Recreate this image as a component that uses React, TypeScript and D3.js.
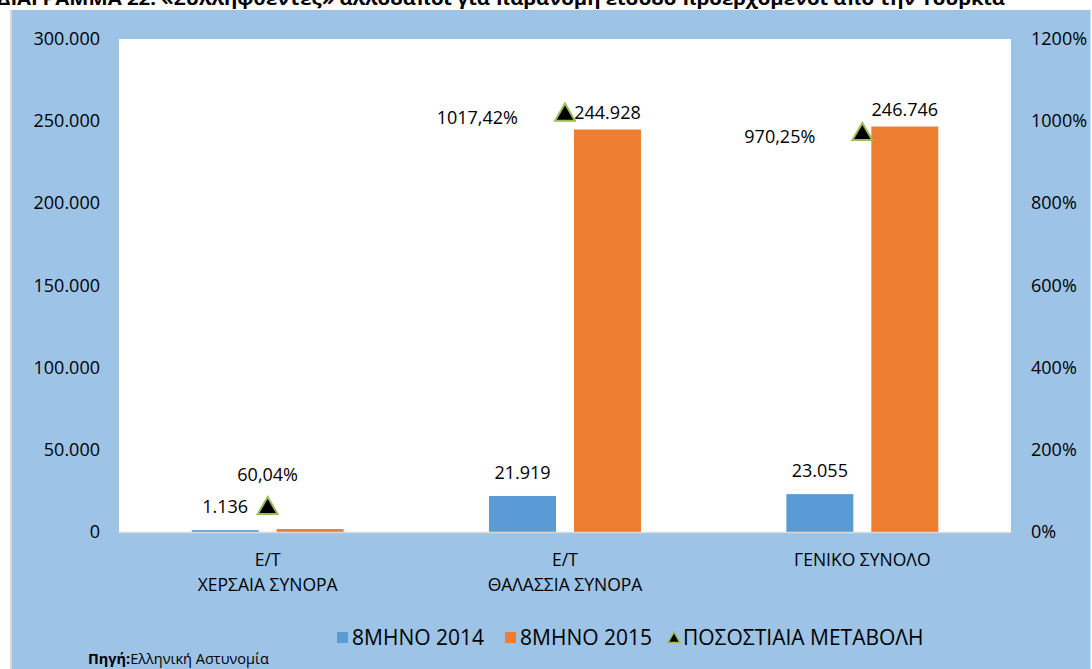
import React, { useEffect, useRef } from "react";
import * as d3 from "d3";

// categories (two-line labels)
const categories = ["Ε/Τ|ΧΕΡΣΑΙΑ ΣΥΝΟΡΑ", "Ε/Τ|ΘΑΛΑΣΣΙΑ ΣΥΝΟΡΑ", "ΓΕΝΙΚΟ ΣΥΝΟΛΟ"];
const seriesNames = ["8ΜΗΝΟ 2014", "8ΜΗΝΟ 2015"];
const values2014 = [1136, 21919, 23055];
const values2015 = [1792, 244928, 246746];
const pctChange = [60.04, 1017.42, 970.25];
const pctLabels = ["60,04%", "1017,42%", "970,25%"];
const leftTicks = [0, 50000, 100000, 150000, 200000, 250000, 300000];
const rightTicks = [0, 200, 400, 600, 800, 1000, 1200];

const title =
  "ΔΙΑΓΡΑΜΜΑ 22: «Συλληφθέντες» αλλοδαποί για παράνομη είσοδο προερχόμενοι από την Τουρκία";

const fmtNum = (v: number) => d3.format(",")(v).replace(/,/g, ".");

export default function App() {
  const ref = useRef<SVGSVGElement>(null);

  useEffect(() => {
    const width = 1092;
    const height = 669;
    const plot = { left: 119, top: 39, right: 1011, bottom: 532 };
    const font = "'Open Sans', 'Noto Sans', sans-serif";
    const blue = "#5B9BD5";
    const orange = "#ED7D31";
    const green = "#9BBB59";
    const fs = 18;

    const svg = d3.select(ref.current!);
    svg.selectAll("*").remove();

    // chart frame
    svg.append("rect").attr("x", 10).attr("y", 10).attr("width", 1081).attr("height", 670).attr("fill", "#D9D9D9");
    svg.append("rect").attr("x", 12).attr("y", 10).attr("width", 1078).attr("height", 670).attr("fill", "#9DC3E6");

    // title (cut at top, as in the source)
    svg.append("text")
      .attr("x", -3)
      .attr("y", 5)
      .attr("font-family", font)
      .attr("font-weight", "bold")
      .attr("font-size", 17)
      .attr("textLength", 1008)
      .attr("lengthAdjust", "spacingAndGlyphs")
      .attr("fill", "#000")
      .text(title);

    svg.append("rect")
      .attr("x", plot.left).attr("y", plot.top)
      .attr("width", plot.right - plot.left).attr("height", plot.bottom - plot.top)
      .attr("fill", "#fff");

    const x0 = d3.scaleBand<string>()
      .domain(categories)
      .range([plot.left, plot.right])
      .paddingInner(0.489)
      .paddingOuter(0.2445);
    const x1 = d3.scaleBand<string>()
      .domain(seriesNames)
      .range([0, x0.bandwidth()])
      .paddingInner(0.212);
    const yL = d3.scaleLinear().domain([0, 300000]).range([plot.bottom, plot.top]);
    const yR = d3.scaleLinear().domain([0, 1200]).range([plot.bottom, plot.top]);

    const series = [
      { name: seriesNames[0], values: values2014, color: blue, labelDy: -17, showLabel: [true, true, true] },
      { name: seriesNames[1], values: values2015, color: orange, labelDy: -11, showLabel: [false, true, true] },
    ];

    const g = svg.append("g");
    series.forEach((s) => {
      const rows = categories.map((c, i) => ({ c, v: s.values[i], show: s.showLabel[i] }));
      g.selectAll(null)
        .data(rows)
        .join("rect")
        .attr("x", (d) => x0(d.c)! + x1(s.name)!)
        .attr("y", (d) => yL(d.v))
        .attr("width", x1.bandwidth())
        .attr("height", (d) => plot.bottom - yL(d.v))
        .attr("fill", s.color);

      g.selectAll(null)
        .data(rows.filter((d) => d.show))
        .join("text")
        .attr("x", (d) => x0(d.c)! + x1(s.name)! + x1.bandwidth() / 2)
        .attr("y", (d) => yL(d.v) + s.labelDy)
        .attr("text-anchor", "middle")
        .attr("font-family", font)
        .attr("font-size", fs)
        .attr("fill", "#000")
        .text((d) => fmtNum(d.v));
    });

    // axis line
    svg.append("line")
      .attr("x1", plot.left).attr("x2", plot.right)
      .attr("y1", plot.bottom + 0.5).attr("y2", plot.bottom + 0.5)
      .attr("stroke", "#D9D9D9").attr("stroke-width", 1.5);

    // triangles for % change
    const tri = d3.symbol().type(d3.symbolTriangle).size(170);
    const cx = (c: string) => x0(c)! + x0.bandwidth() / 2;
    g.selectAll(null)
      .data(categories)
      .join("path")
      .attr("d", tri)
      .attr("transform", (c, i) => `translate(${cx(c)},${yR(pctChange[i]) + 1})`)
      .attr("fill", "#000")
      .attr("stroke", green)
      .attr("stroke-width", 2);

    // % labels
    g.selectAll(null)
      .data(categories)
      .join("text")
      .attr("x", (c, i) => (i === 0 ? cx(c) : cx(c) - 47))
      .attr("y", (c, i) => (i === 0 ? yR(pctChange[i]) - 26 : yR(pctChange[i]) + 10))
      .attr("text-anchor", (c, i) => (i === 0 ? "middle" : "end"))
      .attr("font-family", font)
      .attr("font-size", fs)
      .attr("fill", "#000")
      .text((c, i) => pctLabels[i]);

    // left axis labels
    svg.append("g")
      .selectAll("text")
      .data(leftTicks)
      .join("text")
      .attr("x", 100)
      .attr("y", (d) => yL(d) + 6)
      .attr("text-anchor", "end")
      .attr("font-family", font)
      .attr("font-size", fs)
      .attr("fill", "#000")
      .text((d) => fmtNum(d));

    // right axis labels
    svg.append("g")
      .selectAll("text")
      .data(rightTicks)
      .join("text")
      .attr("x", 1031)
      .attr("y", (d) => yR(d) + 6)
      .attr("font-family", font)
      .attr("font-size", fs)
      .attr("fill", "#000")
      .text((d) => d + "%");

    // category labels
    const cat = svg.append("g")
      .selectAll("text")
      .data(categories)
      .join("text")
      .attr("text-anchor", "middle")
      .attr("font-family", font)
      .attr("font-size", 17.5)
      .attr("fill", "#000");
    cat.each(function (c) {
      const lines = c.split("|");
      d3.select(this)
        .selectAll("tspan")
        .data(lines)
        .join("tspan")
        .attr("x", cx(c))
        .attr("y", (l, j) => 566 + j * 25)
        .text((l) => l);
    });

    // legend
    const legend = svg.append("g").attr("font-family", font).attr("font-size", 21).attr("fill", "#000");
    const legendItems = [
      { name: seriesNames[0], color: blue, x: 337, kind: "rect" },
      { name: seriesNames[1], color: orange, x: 505, kind: "rect" },
      { name: "ΠΟΣΟΣΤΙΑΙΑ ΜΕΤΑΒΟΛΗ", color: "#000", x: 668, kind: "tri" },
    ];
    legendItems.forEach((it) => {
      if (it.kind === "rect") {
        legend.append("rect").attr("x", it.x).attr("y", 632).attr("width", 11).attr("height", 11).attr("fill", it.color);
      } else {
        legend.append("path")
          .attr("d", d3.symbol().type(d3.symbolTriangle).size(60)())
          .attr("transform", `translate(${it.x + 6},${639})`)
          .attr("fill", "#000")
          .attr("stroke", green)
          .attr("stroke-width", 1.5);
      }
      legend.append("text").attr("x", it.x + 15).attr("y", 645).text(it.name);
    });

    // source
    const src = svg.append("text")
      .attr("x", 88)
      .attr("y", 664)
      .attr("font-family", font)
      .attr("font-size", 14.5)
      .attr("fill", "#000");
    src.append("tspan").attr("font-weight", "bold").text("Πηγή:");
    src.append("tspan").text("Ελληνική Αστυνομία");

    svg.attr("width", width).attr("height", height);
  }, []);

  return (
    <svg
      ref={ref}
      width={1092}
      height={669}
      style={{ position: "absolute", left: 0, top: 0, display: "block" }}
    />
  );
}
